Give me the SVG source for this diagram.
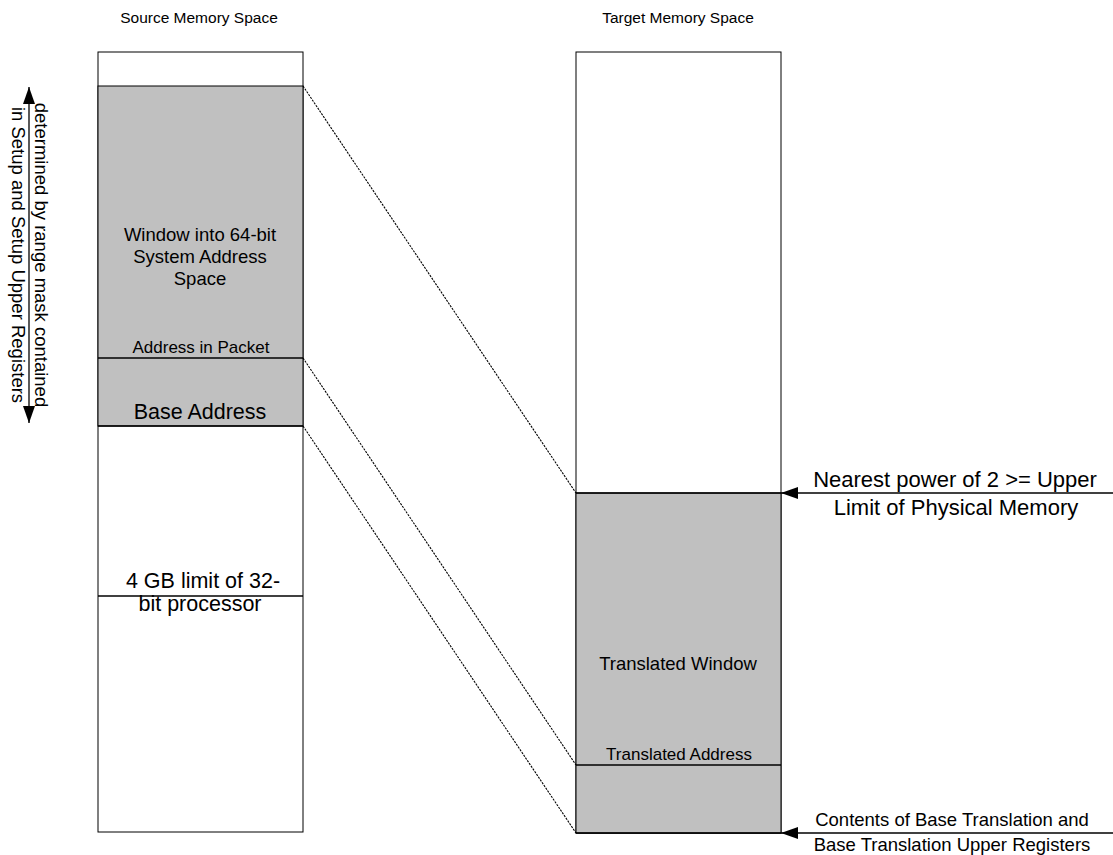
<svg xmlns="http://www.w3.org/2000/svg" width="1113" height="855" viewBox="0 0 1113 855">
  <style>
    text { font-family: "Liberation Sans", Arial, sans-serif; fill: #000; }
    .box { stroke: #000; stroke-width: 1; }
    .white { fill: #fff; }
    .grey { fill: #c0c0c0; }
    .sep { stroke: #000; stroke-width: 1.3; fill: none; }
    .map { stroke: #000; stroke-width: 1.1; stroke-dasharray: 2.2 1.1; fill: none; }
    .ptr { stroke: #000; stroke-width: 1.3; fill: none; }
    .mid { text-anchor: middle; }
  </style>
  <defs>
    <marker id="head" viewBox="0 0 17 12" refX="17" refY="6" markerWidth="17" markerHeight="12" markerUnits="userSpaceOnUse" orient="auto-start-reverse">
      <path d="M0,0 L17,6 L0,12 Z" fill="#000"/>
    </marker>
  </defs>

  <rect width="1113" height="855" fill="#fff"/>

  <!-- column titles -->
  <g id="titles">
    <text class="mid" x="199" y="23" font-size="15.5">Source Memory Space</text>
    <text class="mid" x="678" y="23" font-size="15.5">Target Memory Space</text>
  </g>

  <!-- source address space column -->
  <g id="source-space">
    <rect class="box white" x="98" y="52" width="205" height="780"/>
    <rect class="box grey" x="98" y="86" width="205" height="340"/>
    <line class="sep" x1="98" y1="358" x2="303" y2="358"/>
    <line class="sep" x1="98" y1="426" x2="303" y2="426"/>
    <line class="sep" x1="98" y1="596" x2="303" y2="596"/>
  </g>

  <g id="window-64bit">
    <text class="mid" x="200" y="241" font-size="18.5">Window into 64-bit</text>
    <text class="mid" x="200" y="263" font-size="18.5">System Address</text>
    <text class="mid" x="200" y="285" font-size="18.5">Space</text>
  </g>
  <g id="address-in-packet">
    <text class="mid" x="201" y="353" font-size="17">Address in Packet</text>
  </g>
  <g id="base-address">
    <text class="mid" x="200" y="419" font-size="21.5">Base Address</text>
  </g>
  <g id="limit-4gb">
    <text class="mid" x="203" y="588" font-size="21.5">4 GB limit of 32-</text>
    <text class="mid" x="200" y="611" font-size="21.5">bit processor</text>
  </g>

  <!-- target address space column -->
  <g id="target-space">
    <rect class="box white" x="576" y="52" width="205" height="781"/>
    <rect class="box grey" x="576" y="493" width="205" height="340"/>
    <line class="sep" x1="576" y1="493" x2="781" y2="493"/>
    <line class="sep" x1="576" y1="765" x2="781" y2="765"/>
    <line class="sep" x1="576" y1="833" x2="781" y2="833"/>
  </g>
  <g id="translated-window">
    <text class="mid" x="678" y="670" font-size="18.5">Translated Window</text>
  </g>
  <g id="translated-address">
    <text class="mid" x="679" y="760" font-size="17">Translated Address</text>
  </g>

  <!-- range annotation on the left -->
  <g id="range-note">
    <text transform="translate(35,255) rotate(90)" class="mid" font-size="18.5">determined by range mask contained</text>
    <text transform="translate(12,255) rotate(90)" class="mid" font-size="18.5">in Setup and Setup Upper Registers</text>
  </g>

  <!-- register annotations on the right -->
  <g id="upper-limit-note">
    <text class="mid" x="955" y="487" font-size="22">Nearest power of 2 &gt;= Upper</text>
    <text class="mid" x="956" y="515" font-size="22">Limit of Physical Memory</text>
  </g>
  <g id="base-translation-note">
    <text class="mid" x="952" y="826" font-size="18.5">Contents of Base Translation and</text>
    <text class="mid" x="952" y="851" font-size="18.5">Base Translation Upper Registers</text>
  </g>

  <!-- connectors -->
  <g id="connectors">
    <line class="map" x1="303" y1="86" x2="576" y2="493"/>
    <line class="map" x1="303" y1="358" x2="576" y2="765"/>
    <line class="map" x1="303" y1="426" x2="576" y2="833"/>
    <line class="ptr" x1="29" y1="87" x2="29" y2="423" marker-start="url(#head)" marker-end="url(#head)"/>
    <line class="ptr" x1="1113" y1="493" x2="781" y2="493" marker-end="url(#head)"/>
    <line class="ptr" x1="1113" y1="833" x2="781" y2="833" marker-end="url(#head)"/>
  </g>
</svg>
